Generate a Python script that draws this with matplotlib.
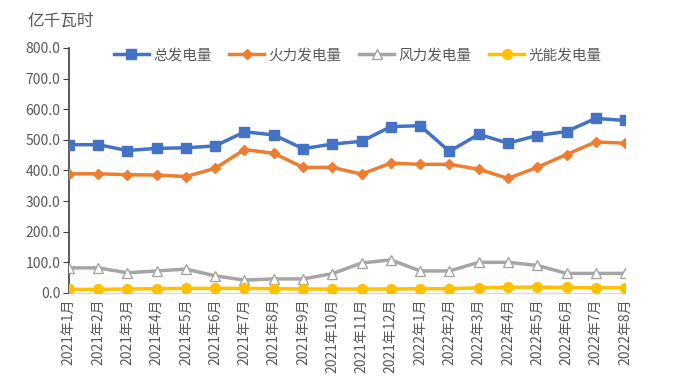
import matplotlib
matplotlib.use("Agg")
import matplotlib.pyplot as plt
import numpy as np

plt.rcParams['font.family'] = ['Noto Sans CJK SC', 'DejaVu Sans']

months = ["2021年1月", "2021年2月", "2021年3月", "2021年4月", "2021年5月", "2021年6月",
          "2021年7月", "2021年8月", "2021年9月", "2021年10月", "2021年11月", "2021年12月",
          "2022年1月", "2022年2月", "2022年3月", "2022年4月", "2022年5月", "2022年6月",
          "2022年7月", "2022年8月"]
total = [484, 484, 465, 472, 474, 480, 526, 516, 471, 486, 495, 543, 546, 462, 518, 489, 514, 527, 570, 563]
thermal = [389, 389, 386, 385, 380, 407, 468, 456, 410, 410, 388, 424, 420, 420, 404, 374, 410, 452, 493, 489]
wind = [82, 82, 66, 72, 78, 56, 42, 46, 46, 63, 98, 108, 72, 72, 100, 100, 90, 64, 64, 64]
solar = [12, 12, 13, 14, 15, 15, 15, 14, 13, 13, 13, 13, 14, 14, 17, 19, 19, 18, 17, 17]
yticks = [0, 100, 200, 300, 400, 500, 600, 700, 800]
names = ["总发电量", "火力发电量", "风力发电量", "光能发电量"]

fig = plt.figure(figsize=(6.75, 3.83), dpi=100)
ax = fig.add_axes([0.102, 0.235, 0.824, 0.64])
x = np.arange(len(months))
tc = '#595959'
ax.plot(x, total, color='#4472C4', lw=2.5, marker='s', ms=7, label=names[0], zorder=4)
ax.plot(x, thermal, color='#ED7D31', lw=2.5, marker='D', ms=5, label=names[1], zorder=3)
ax.plot(x, wind, color='#A5A5A5', lw=2.5, marker='^', ms=7, mfc='white', mec='#A5A5A5', mew=1.0, label=names[2], zorder=3)
ax.plot(x, solar, color='#FFC000', lw=2.5, marker='o', ms=7, label=names[3], zorder=3)

ax.set_xlim(0, len(months) - 1)
ax.set_ylim(0, 800)
ax.set_yticks(yticks)
ax.set_yticklabels([f"{v:.1f}" for v in yticks], color=tc, fontsize=10)
ax.set_xticks(x)
ax.set_xticklabels(months, rotation=90, color=tc, fontsize=10)
for s in ['top', 'right']:
    ax.spines[s].set_visible(False)
ax.spines['left'].set_color('#404040')
ax.spines['left'].set_linewidth(1.2)
ax.spines['bottom'].set_color('#D9D9D9')
ax.spines['bottom'].set_linewidth(1.0)
ax.tick_params(axis='y', length=4, color='#404040', pad=2)
ax.tick_params(axis='x', length=0, pad=4)

fig.text(0.041, 0.945, "亿千瓦时", color=tc, fontsize=12, va='center', ha='left')
leg = fig.legend(loc='center', bbox_to_anchor=(0.53, 0.855), ncol=4, frameon=False,
                 fontsize=10.5, handlelength=2.4, columnspacing=1.2, handletextpad=0.3)
for t in leg.get_texts():
    t.set_color(tc)

fig.savefig("out.png", dpi=100)
